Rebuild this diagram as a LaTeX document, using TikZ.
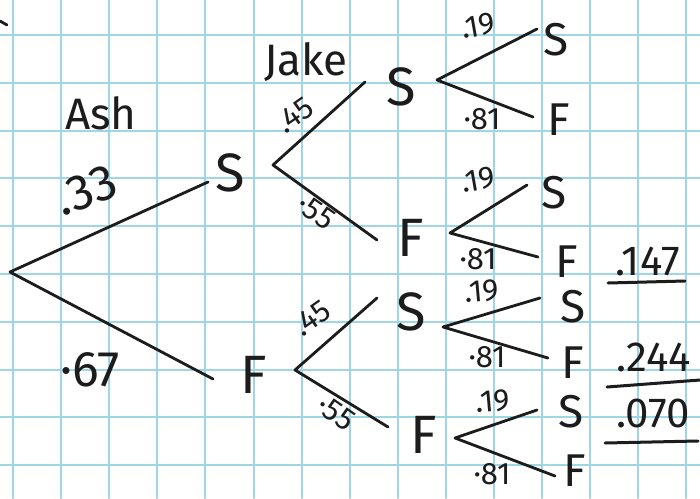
\documentclass[tikz,border=0pt]{standalone}
\usepackage{fontspec}
\setmainfont{Fira Sans}
\definecolor{gridc}{HTML}{9FD6E6}
\definecolor{ink}{HTML}{1C1C1C}
\begin{document}
\begin{tikzpicture}[x=1pt,y=-1pt,line cap=round,line join=round,
  gridline/.style={draw=gridc,line width=2pt},
  branch/.style={draw=ink,line width=2.8pt},
  uline/.style={draw=ink,line width=3pt},
  outc/.style={font=\fontsize{54}{54}\selectfont,text=ink,inner sep=0pt},
  outs/.style={font=\fontsize{46}{46}\selectfont,text=ink,inner sep=0pt},
  head/.style={font=\fontsize{44}{44}\selectfont,text=ink,inner sep=0pt},
  prob/.style={font=\fontsize{31}{31}\selectfont,text=ink,inner sep=0pt},
  bigprob/.style={font=\fontsize{50}{50}\selectfont,text=ink,inner sep=0pt},
  res/.style={font=\fontsize{42}{42}\selectfont,text=ink,inner sep=0pt}]
\fill[white] (0,0) rectangle (700,498);
\useasboundingbox (0,0) rectangle (700,498);
\foreach \i in {0,...,14} \draw[gridline] ({13+48.1*\i},0) -- ({13+48.1*\i},498);
\foreach \j in {0,...,9} \draw[gridline] (0,{35+47.8*\j}) -- (700,{35+47.8*\j});
% stray mark
\coordinate (m1) at (0,21); \coordinate (m2) at (7,25);
\draw[branch] (m1) -- (m2);
% headings
\node[head] (ash) at (101,113) {Ash};
\node[head] (jake) at (306,62) {Jake};
% level 1
\coordinate (r) at (10,272);
\coordinate (a1) at (208,182);
\coordinate (a2) at (213,379);
\draw[branch] (a1) -- (r) -- (a2);
\node[bigprob,rotate=20] (p33) at (86,190) {.33};
\node[bigprob] (p67) at (90,370) {·67};
\node[outc] (S1) at (230,173) {S};
\node[outc] (F1) at (254,375) {F};
% level 2 (Jake)
\coordinate (j1) at (273,165); \coordinate (j1u) at (365,82); \coordinate (j1d) at (377,240);
\draw[branch] (j1u) -- (j1) -- (j1d);
\node[prob,rotate=35] (p45a) at (295,115) {.45};
\node[prob,rotate=-35] (p55a) at (316,212) {·55};
\node[outc] (S2) at (401,87) {S};
\node[outc] (F2) at (411,238) {F};
\coordinate (j2) at (295,370); \coordinate (j2u) at (377,298); \coordinate (j2d) at (388,427);
\draw[branch] (j2u) -- (j2) -- (j2d);
\node[prob,rotate=35] (p45b) at (312,318) {.45};
\node[prob,rotate=-35] (p55b) at (336,413) {·55};
\node[outc] (S3) at (411,312) {S};
\node[outc] (F3) at (424,435) {F};
% level 3
\coordinate (k1) at (437,80); \coordinate (k1u) at (537,29); \coordinate (k1d) at (533,117);
\draw[branch] (k1u) -- (k1) -- (k1d);
\node[prob,rotate=10] (p19a) at (478,26) {.19};
\node[prob] (p81a) at (482,119) {·81};
\node[outs] (S4) at (556,40) {S};
\node[outs] (F4) at (559,120) {F};
\coordinate (k2) at (450,233); \coordinate (k2u) at (527,185); \coordinate (k2d) at (538,257);
\draw[branch] (k2u) -- (k2) -- (k2d);
\node[prob,rotate=10] (p19b) at (478,180) {.19};
\node[prob] (p81b) at (478,259) {·81};
\node[outs] (S5) at (554,193) {S};
\node[outs] (F5) at (567,262) {F};
\coordinate (k3) at (443,327); \coordinate (k3u) at (540,298); \coordinate (k3d) at (548,358);
\draw[branch] (k3u) -- (k3) -- (k3d);
\node[prob,rotate=5] (p19c) at (482,291) {.19};
\node[prob] (p81c) at (487,357) {·81};
\node[outs] (S6) at (573,307) {S};
\node[outs] (F6) at (573,363) {F};
\coordinate (k4) at (455,438); \coordinate (k4u) at (537,410); \coordinate (k4d) at (555,476);
\draw[branch] (k4u) -- (k4) -- (k4d);
\node[prob,rotate=5] (p19d) at (493,401) {.19};
\node[prob] (p81d) at (492,474) {·81};
\node[outs] (S7) at (571,412) {S};
\node[outs] (F7) at (575,471) {F};
% results
\node[res] (r1) at (648,261) {.147};
\coordinate (u1a) at (608,283); \coordinate (u1b) at (685,281);
\draw[uline] (u1a) -- (u1b);
\node[res] (r2) at (654,357) {.244};
\coordinate (u2a) at (607,387); \coordinate (u2b) at (700,380);
\draw[uline] (u2a) -- (u2b);
\node[res] (r3) at (653,413) {.070};
\coordinate (u3a) at (605,443); \coordinate (u3b) at (698,441);
\draw[uline] (u3a) -- (u3b);
\end{tikzpicture}
\end{document}
